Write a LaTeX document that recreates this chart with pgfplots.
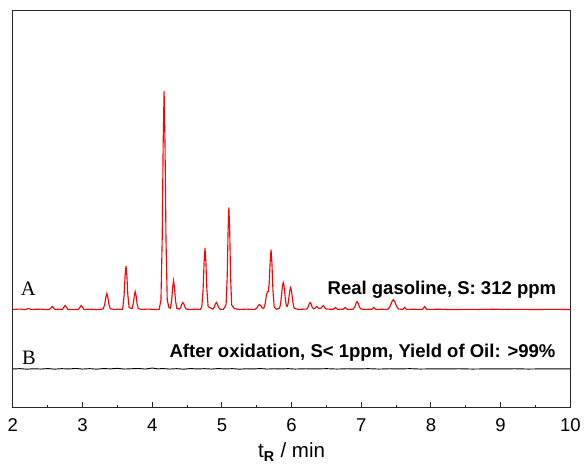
\documentclass[border=0pt]{standalone}
\usepackage{fontspec}
\setmainfont{Liberation Sans}
\newfontfamily\timesfont{Liberation Serif}
\usepackage{pgfplots}
\pgfplotsset{compat=1.18}

\begin{document}
\begin{tikzpicture}
\begin{axis}[
    name=ax,
    width=421.5pt, height=300pt,
    scale only axis,
    xmin=2, xmax=10, ymin=0, ymax=400,
    xtick={2,3,...,10},
    minor x tick num=1,
    xtick pos=bottom,
    tick align=inside,
    major tick length=4pt,
    minor tick length=2pt,
    ytick=\empty,
    axis line style={line width=0.9pt, black!85},
    every tick/.style={line width=0.8pt, black!85},
    tick label style={font=\fontsize{14}{17}\selectfont},
    xticklabel style={yshift=-4.5pt},
    /pgf/number format/assume math mode=true,
    xlabel={t\textsubscript{\textbf{R}} / min},
    xlabel style={font=\fontsize{15.5}{18}\selectfont, at={(axis description cs:0.5,0)}, anchor=base, yshift=-38pt},
    clip=false,
  ]
  % sample A: real gasoline (red)
  \addplot[red, line width=0.85pt] coordinates {
    (2.00,99.0) (2.10,99.4) (2.18,98.8) (2.22,100.0) (2.26,99.0) (2.40,99.3) (2.48,98.8)
    (2.525,99.0) (2.565,102) (2.605,99.0) (2.67,99.3)
    (2.71,99.0) (2.75,103) (2.79,99.0) (2.86,98.8)
    (2.94,99.0) (2.98,103) (3.02,99.0) (3.10,99.3) (3.20,98.9) (3.27,99.2)
    (3.298,99.7) (3.318,104.2) (3.333,111.1) (3.348,115) (3.363,111.1) (3.378,104.2) (3.398,99.7)
    (3.45,99.0) (3.52,99.3) (3.57,99.0)
    (3.578,100.9) (3.596,113.3) (3.6095,132.2) (3.623,143) (3.6365,132.2) (3.650,113.3) (3.668,100.9)
    (3.71,99.8) (3.728,104.9) (3.7415,112.6) (3.755,117) (3.7685,112.6) (3.782,104.9) (3.80,99.8)
    (3.85,99.0) (3.95,99.4) (4.05,98.8) (4.10,99.2)
    (4.125,108.7) (4.143,170.5) (4.1565,265.1) (4.17,319) (4.1835,265.1) (4.197,170.5) (4.215,108.7) (4.24,100.8)
    (4.261,100.3) (4.279,108.4) (4.2925,120.9) (4.306,128) (4.3195,120.9) (4.333,108.4) (4.351,100.3)
    (4.39,99.3) (4.41,101.3) (4.425,104.3) (4.44,106) (4.455,104.3) (4.47,101.3) (4.49,99.3)
    (4.55,99.0) (4.62,99.3) (4.69,99.0)
    (4.712,101.7) (4.73,119.2) (4.7435,145.8) (4.757,161) (4.7705,145.8) (4.784,119.2) (4.802,101.7)
    (4.87,99.3) (4.89,101.3) (4.905,104.3) (4.92,106) (4.935,104.3) (4.95,101.3) (4.97,99.3)
    (5.02,99.0)
    (5.06,103.5) (5.076,132.5) (5.088,176.8) (5.10,202) (5.112,176.8) (5.124,132.5) (5.14,103.5)
    (5.18,99.8) (5.25,99.0) (5.35,99.3) (5.45,99.0)
    (5.4775,99.2) (5.5025,100.6) (5.521,102.8) (5.54,104) (5.559,102.8) (5.5775,100.6)
    (5.60,100.0) (5.62,104.5) (5.635,111.8) (5.65,116.6) (5.665,116.9) (5.678,124.9) (5.691,145.5)
    (5.705,159.4) (5.718,145.2) (5.732,118.5) (5.75,101.6) (5.78,99.2)
    (5.825,100.2) (5.836,102.6) (5.847,107.8) (5.858,115.4) (5.869,122.8) (5.88,126) (5.891,122.8)
    (5.902,115.4) (5.913,107.8) (5.924,103.0) (5.933,102.0)
    (5.942,102.5) (5.953,106.2) (5.964,112.4) (5.975,118.4) (5.986,121) (5.997,118.4) (6.008,112.4)
    (6.019,106.2) (6.03,102.0) (6.041,100.0)
    (6.10,99.0) (6.18,99.3)
    (6.216,99.3) (6.236,101.3) (6.251,104.3) (6.266,106) (6.281,104.3) (6.296,101.3) (6.316,99.6)
    (6.33,100.0) (6.36,102) (6.39,100.0)
    (6.42,100.2) (6.455,103) (6.49,99.5) (6.55,99.2)
    (6.60,99.2) (6.63,101) (6.66,99.0) (6.70,99.3)
    (6.74,99.2) (6.77,101) (6.80,99.0) (6.87,99.2)
    (6.885,99.4) (6.907,101.6) (6.9235,105.0) (6.94,107) (6.9565,105.0) (6.973,101.6) (6.995,99.4)
    (7.05,99.0) (7.12,99.3)
    (7.15,99.0) (7.18,101) (7.21,99.0) (7.30,99.2) (7.36,99.0)
    (7.385,99.4) (7.415,102.3) (7.4375,106.6) (7.46,109) (7.4825,106.6) (7.505,102.3) (7.535,99.4)
    (7.58,99.2) (7.60,99.1) (7.62,101) (7.65,99.0) (7.75,99.2) (7.85,99.0)
    (7.88,99.1) (7.91,102) (7.94,99.0)
    (8.10,99.2) (8.30,98.9) (8.50,99.1) (8.70,99.0) (8.90,99.2) (9.10,99.0) (9.30,99.1)
    (9.50,98.9) (9.70,99.1) (9.90,99.0) (10.00,99.0)
  };
  % sample B: after oxidation (black)
  \addplot[black, line width=0.7pt] coordinates {
    (2.00,39.0) (2.10,39.3) (2.20,38.8) (2.30,39.2) (2.40,38.9) (2.50,39.4) (2.60,38.8)
    (2.70,39.3) (2.80,39.0) (2.90,39.5) (3.00,38.9) (3.10,39.3) (3.20,38.8) (3.30,39.4)
    (3.40,39.1) (3.50,39.6) (3.60,38.9) (3.70,39.2) (3.80,39.5) (3.90,38.9) (4.00,39.9)
    (4.08,39.1) (4.15,39.4) (4.25,38.9) (4.35,39.3) (4.45,38.8) (4.55,39.4) (4.65,39.0)
    (4.75,39.3) (4.85,38.9) (4.95,39.4) (5.05,39.0) (5.15,39.3) (5.25,38.8) (5.35,39.2)
    (5.45,39.0) (5.55,39.4) (5.65,38.9) (5.75,39.2) (5.85,39.0) (5.95,39.3) (6.05,38.9)
    (6.20,39.2) (6.35,39.0) (6.50,39.3) (6.65,38.9) (6.80,39.2) (6.95,39.0) (7.10,39.3)
    (7.25,38.9) (7.40,39.2) (7.55,39.0) (7.70,39.3) (7.85,38.9) (8.00,39.1) (8.20,39.0)
    (8.40,39.2) (8.60,38.9) (8.80,39.1) (9.00,39.0) (9.20,39.2) (9.40,38.9) (9.60,39.1)
    (9.80,39.0) (10.00,39.0)
  };
  \node[anchor=base west, inner sep=0pt, font=\timesfont\fontsize{15.5}{18}\selectfont] at (axis cs:2.11,113) {A};
  \node[anchor=base west, inner sep=0pt, font=\timesfont\fontsize{15.5}{18}\selectfont] at (axis cs:2.13,44) {B};
  \node[anchor=base east, inner sep=0pt, font=\bfseries\fontsize{14}{17}\selectfont] at (axis cs:9.80,114) {Real gasoline, S: 312 ppm};
  \node[anchor=base east, inner sep=0pt, font=\bfseries\fontsize{14}{17}\selectfont] at (axis cs:9.79,51) {After oxidation, S< 1ppm, Yield of Oil: >99\%};
\end{axis}
\path ([xshift=-9.75pt,yshift=-41.25pt]ax.south west) rectangle ([xshift=7.5pt,yshift=8.25pt]ax.north east);
\end{tikzpicture}
\end{document}
